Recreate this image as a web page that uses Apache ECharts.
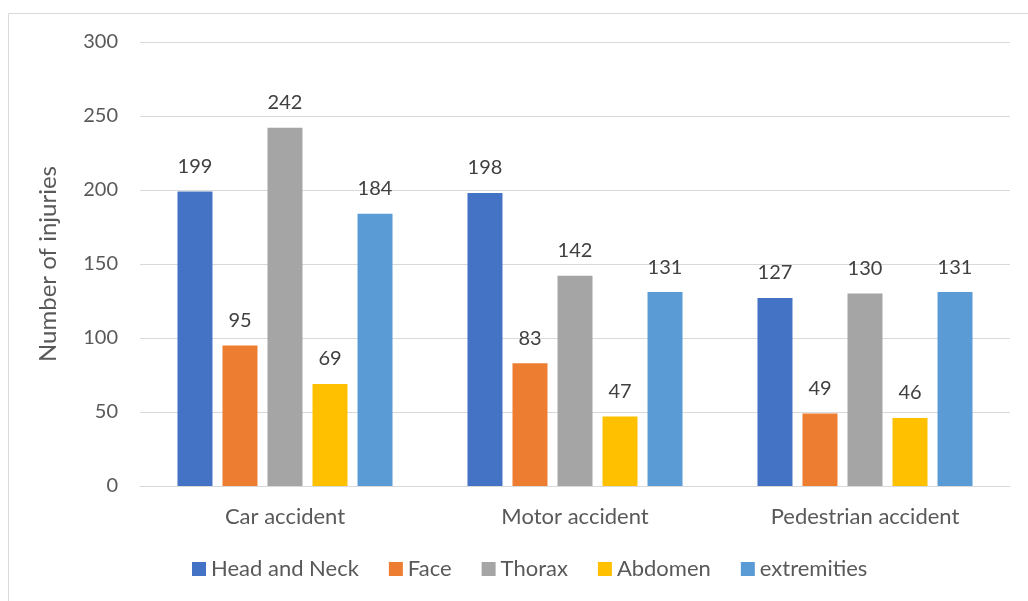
<!DOCTYPE html>
<html>
<head>
<meta charset="utf-8">
<script src="https://cdn.jsdelivr.net/npm/echarts@6/dist/echarts.min.js"></script>
<style>
  html, body { margin: 0; padding: 0; background: #fff; }
  #chart { width: 1028px; height: 601px; }
</style>
</head>
<body>
<div id="chart"></div>
<script>
let categories = ['Car accident', 'Motor accident', 'Pedestrian accident'];
let series_names = ['Head and Neck', 'Face', 'Thorax', 'Abdomen', 'extremities'];
let head_neck = [199, 198, 127];
let face = [95, 83, 49];
let thorax = [242, 142, 130];
let abdomen = [69, 47, 46];
let extremities = [184, 131, 131];
let color_list = ['#4472c4', '#ed7d31', '#a5a5a5', '#ffc000', '#5b9bd5'];

let font = 'Lato, "Open Sans", sans-serif';
let text_color = '#595959';

function gen_bar_series(name, data, color) {
    return {
        name: name,
        type: 'bar',
        data: data,
        barWidth: 35,
        barGap: '28.6%',
        itemStyle: {color: color},
        label: {
            show: true,
            position: 'top',
            distance: 15,
            color: '#404040',
            fontSize: 20,
            fontFamily: font
        }
    };
}

let chart = echarts.init(document.getElementById('chart'));

let option = {
    animation: false,
    textStyle: {fontFamily: font},
    graphic: [{
        type: 'rect',
        shape: {x: 8.5, y: 13.5, width: 1040, height: 620},
        style: {fill: 'none', stroke: '#d9d9d9', lineWidth: 1},
        silent: true
    }],
    grid: {left: 140, right: 18, top: 42, bottom: 115},
    legend: {
        bottom: 16,
        left: 187,
        itemWidth: 14,
        itemHeight: 14,
        itemGap: 30,
        icon: 'rect',
        textStyle: {color: text_color, fontSize: 22, fontFamily: font},
        data: series_names
    },
    xAxis: {
        type: 'category',
        data: categories,
        axisLine: {lineStyle: {color: '#d9d9d9', width: 1}},
        axisTick: {show: false},
        axisLabel: {color: text_color, fontSize: 22, fontFamily: font, margin: 20}
    },
    yAxis: {
        type: 'value',
        min: 0,
        max: 300,
        interval: 50,
        name: 'Number of injuries',
        nameLocation: 'middle',
        nameGap: 80,
        nameTextStyle: {color: text_color, fontSize: 24, fontFamily: font},
        axisLine: {show: false},
        axisTick: {show: false},
        axisLabel: {color: text_color, fontSize: 20, fontFamily: font, margin: 22},
        splitLine: {lineStyle: {color: '#d9d9d9', width: 1}}
    },
    series: [
        gen_bar_series(series_names[0], head_neck, color_list[0]),
        gen_bar_series(series_names[1], face, color_list[1]),
        gen_bar_series(series_names[2], thorax, color_list[2]),
        gen_bar_series(series_names[3], abdomen, color_list[3]),
        gen_bar_series(series_names[4], extremities, color_list[4])
    ]
};

chart.setOption(option);
</script>
</body>
</html>
